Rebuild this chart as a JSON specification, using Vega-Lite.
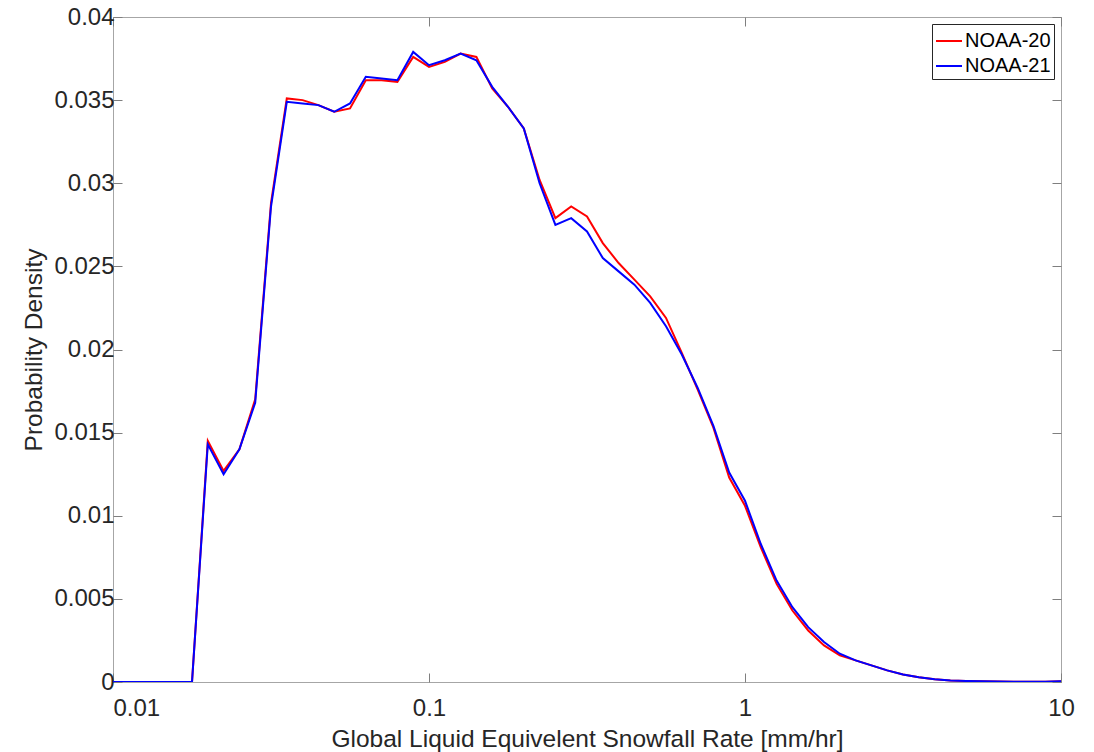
{
  "$schema": "https://vega.github.io/schema/vega-lite/v6.json",
  "width": 948,
  "height": 665,
  "autosize": {"type": "none"},
  "padding": {"left": 113, "top": 17, "right": 33, "bottom": 70},
  "background": "white",
  "config": {
    "view": {"stroke": "#a6a6a6", "strokeWidth": 1},
    "font": "Liberation Sans",
    "axis": {
      "grid": false,
      "domain": false,
      "tickColor": "#7f7f7f",
      "tickSize": -9,
      "labelFont": "Liberation Sans",
      "labelFontSize": 24,
      "labelColor": "#262626",
      "titleFont": "Liberation Sans",
      "titleFontSize": 24,
      "titleFontWeight": "normal",
      "titleColor": "#262626"
    }
  },
  "data": {
    "values": [
      {"x": 0.01, "NOAA-20": 0, "NOAA-21": 0},
      {"x": 0.01122, "NOAA-20": 0, "NOAA-21": 0},
      {"x": 0.012589, "NOAA-20": 0, "NOAA-21": 0},
      {"x": 0.014125, "NOAA-20": 0, "NOAA-21": 0},
      {"x": 0.015849, "NOAA-20": 0, "NOAA-21": 0},
      {"x": 0.017783, "NOAA-20": 0, "NOAA-21": 0},
      {"x": 0.019953, "NOAA-20": 0.0145, "NOAA-21": 0.0143},
      {"x": 0.022387, "NOAA-20": 0.0127, "NOAA-21": 0.0125},
      {"x": 0.025119, "NOAA-20": 0.0140, "NOAA-21": 0.0140},
      {"x": 0.028184, "NOAA-20": 0.0170, "NOAA-21": 0.0168},
      {"x": 0.031623, "NOAA-20": 0.0288, "NOAA-21": 0.0286},
      {"x": 0.035481, "NOAA-20": 0.0351, "NOAA-21": 0.0349},
      {"x": 0.039811, "NOAA-20": 0.0350, "NOAA-21": 0.0348},
      {"x": 0.044668, "NOAA-20": 0.0347, "NOAA-21": 0.0347},
      {"x": 0.050119, "NOAA-20": 0.0343, "NOAA-21": 0.0343},
      {"x": 0.056234, "NOAA-20": 0.0345, "NOAA-21": 0.0348},
      {"x": 0.063096, "NOAA-20": 0.0362, "NOAA-21": 0.0364},
      {"x": 0.070795, "NOAA-20": 0.0362, "NOAA-21": 0.0363},
      {"x": 0.079433, "NOAA-20": 0.0361, "NOAA-21": 0.0362},
      {"x": 0.089125, "NOAA-20": 0.0376, "NOAA-21": 0.0379},
      {"x": 0.1, "NOAA-20": 0.0370, "NOAA-21": 0.0371},
      {"x": 0.1122, "NOAA-20": 0.0373, "NOAA-21": 0.0374},
      {"x": 0.12589, "NOAA-20": 0.0378, "NOAA-21": 0.0378},
      {"x": 0.14125, "NOAA-20": 0.0376, "NOAA-21": 0.0374},
      {"x": 0.15849, "NOAA-20": 0.0357, "NOAA-21": 0.0358},
      {"x": 0.17783, "NOAA-20": 0.0346, "NOAA-21": 0.0346},
      {"x": 0.19953, "NOAA-20": 0.0333, "NOAA-21": 0.0333},
      {"x": 0.22387, "NOAA-20": 0.0302, "NOAA-21": 0.0300},
      {"x": 0.25119, "NOAA-20": 0.0279, "NOAA-21": 0.0275},
      {"x": 0.28184, "NOAA-20": 0.0286, "NOAA-21": 0.0279},
      {"x": 0.31623, "NOAA-20": 0.0280, "NOAA-21": 0.0271},
      {"x": 0.35481, "NOAA-20": 0.0264, "NOAA-21": 0.0255},
      {"x": 0.39811, "NOAA-20": 0.0252, "NOAA-21": 0.0247},
      {"x": 0.44668, "NOAA-20": 0.0242, "NOAA-21": 0.0239},
      {"x": 0.50119, "NOAA-20": 0.0232, "NOAA-21": 0.0228},
      {"x": 0.56234, "NOAA-20": 0.0219, "NOAA-21": 0.0214},
      {"x": 0.63096, "NOAA-20": 0.0198, "NOAA-21": 0.0197},
      {"x": 0.70795, "NOAA-20": 0.0176, "NOAA-21": 0.0177},
      {"x": 0.79433, "NOAA-20": 0.0153, "NOAA-21": 0.0154},
      {"x": 0.89125, "NOAA-20": 0.0123, "NOAA-21": 0.0126},
      {"x": 1, "NOAA-20": 0.0106, "NOAA-21": 0.0109},
      {"x": 1.122, "NOAA-20": 0.0081, "NOAA-21": 0.0083},
      {"x": 1.2589, "NOAA-20": 0.0059, "NOAA-21": 0.0061},
      {"x": 1.4125, "NOAA-20": 0.0043, "NOAA-21": 0.0045},
      {"x": 1.5849, "NOAA-20": 0.0031, "NOAA-21": 0.0033},
      {"x": 1.7783, "NOAA-20": 0.0022, "NOAA-21": 0.0024},
      {"x": 1.9953, "NOAA-20": 0.0016, "NOAA-21": 0.0017},
      {"x": 2.2387, "NOAA-20": 0.0013, "NOAA-21": 0.0013},
      {"x": 2.5119, "NOAA-20": 0.0010, "NOAA-21": 0.0010},
      {"x": 2.8184, "NOAA-20": 0.0007, "NOAA-21": 0.0007},
      {"x": 3.1623, "NOAA-20": 0.00045, "NOAA-21": 0.00045},
      {"x": 3.5481, "NOAA-20": 0.00028, "NOAA-21": 0.00028},
      {"x": 3.9811, "NOAA-20": 0.00016, "NOAA-21": 0.00016},
      {"x": 4.4668, "NOAA-20": 0.00009, "NOAA-21": 0.00009},
      {"x": 5.0119, "NOAA-20": 0.00006, "NOAA-21": 0.00006},
      {"x": 5.6234, "NOAA-20": 0.00004, "NOAA-21": 0.00004},
      {"x": 6.3096, "NOAA-20": 0.00003, "NOAA-21": 0.00003},
      {"x": 7.0795, "NOAA-20": 0.00002, "NOAA-21": 0.00002},
      {"x": 7.9433, "NOAA-20": 0.00002, "NOAA-21": 0.00002},
      {"x": 8.9125, "NOAA-20": 0.00001, "NOAA-21": 0.00001},
      {"x": 10, "NOAA-20": 0.00005, "NOAA-21": 0.00005}
    ]
  },
  "transform": [{"fold": ["NOAA-20", "NOAA-21"], "as": ["series", "density"]}],
  "layer": [
    {
      "mark": {"type": "line", "strokeWidth": 2, "clip": true},
      "encoding": {
        "x": {
          "field": "x", "type": "quantitative",
          "scale": {"type": "log", "domain": [0.01, 10], "nice": false},
          "axis": {
            "values": [0.01, 0.1, 1, 10], "format": "~g",
            "labelFontSize": 24,
            "labelFlush": false,
            "labelAlign": {"expr": "datum.value <= 0.0101 ? 'left' : 'center'"},
            "labelPadding": 23,
            "title": "Global Liquid Equivelent Snowfall Rate [mm/hr]",
            "titleFontSize": 24.5,
            "titlePadding": 7
          }
        },
        "y": {
          "field": "density", "type": "quantitative",
          "scale": {"domain": [0, 0.04], "nice": false},
          "axis": {
            "values": [0, 0.005, 0.01, 0.015, 0.02, 0.025, 0.03, 0.035, 0.04], "format": "~g",
            "labelFontSize": 24,
            "labelFlush": false,
            "labelPadding": 8,
            "title": "Probability Density",
            "titleFontSize": 24.5,
            "titlePadding": 7
          }
        },
        "color": {
          "field": "series", "type": "nominal",
          "scale": {"domain": ["NOAA-20", "NOAA-21"], "range": ["#ff0000", "#0000ff"]},
          "legend": {
            "title": null,
            "orient": "none",
            "legendX": 819,
            "legendY": 7,
            "symbolType": "stroke",
            "symbolSize": 676,
            "symbolStrokeWidth": 2,
            "labelFont": "Liberation Sans",
            "labelFontSize": 20,
            "labelColor": "#000000",
            "labelOffset": 2,
            "rowPadding": 1,
            "padding": 3,
            "strokeColor": "#262626",
            "fillColor": "white"
          }
        }
      }
    },
    {
      "mark": {"type": "point", "opacity": 0},
      "encoding": {
        "x": {
          "field": "x", "type": "quantitative",
          "axis": {"orient": "top", "values": [0.01, 0.1, 1, 10], "labels": false, "title": null}
        },
        "y": {
          "field": "density", "type": "quantitative",
          "axis": {"orient": "right", "values": [0, 0.005, 0.01, 0.015, 0.02, 0.025, 0.03, 0.035, 0.04], "labels": false, "title": null}
        }
      }
    }
  ],
  "resolve": {"axis": {"x": "independent", "y": "independent"}}
}
